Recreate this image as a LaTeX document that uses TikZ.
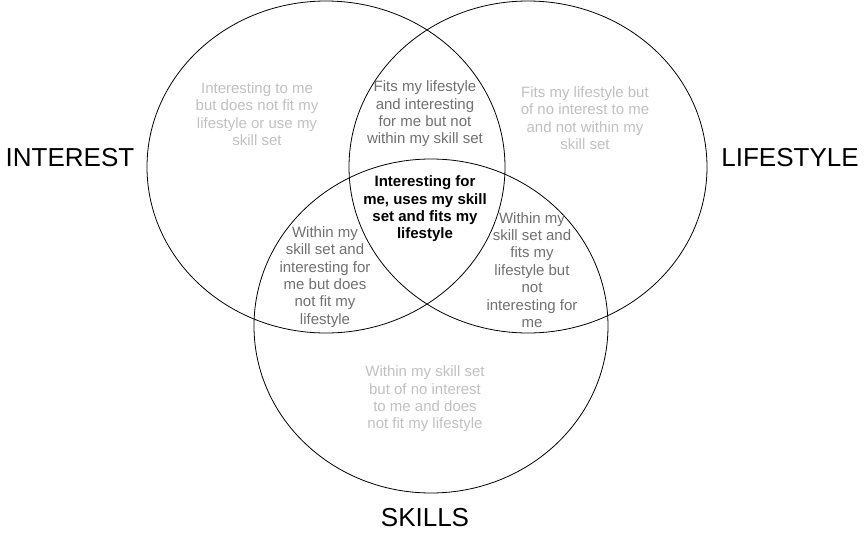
\documentclass[tikz,border=0pt]{standalone}
\usepackage{fontspec}
\setmainfont{Liberation Sans}
\usetikzlibrary{shapes.geometric}
\definecolor{lightgrey}{RGB}{192,192,192}
\definecolor{midgrey}{RGB}{112,112,112}
\tikzset{
  ring/.style={draw=black, line width=0.8pt, ellipse, inner sep=0pt, minimum width=358pt, minimum height=332pt},
  region/.style={align=center, inner sep=0pt, font=\fontsize{15}{17.4}\selectfont},
  outer/.style={region, text=lightgrey},
  inner/.style={region, text=midgrey},
  core/.style={region, text=black, font=\fontsize{15}{17.4}\selectfont\bfseries},
  setname/.style={inner sep=0pt, font=\fontsize{26}{30}\selectfont}
}

\begin{document}
\begin{tikzpicture}[x=1pt, y=-1pt]
  \useasboundingbox (0,0) rectangle (868,541);

  % the three sets
  \node[ring] (interest) at (326,167) {};
  \node[ring] (lifestyle) at (528,167) {};
  \node[ring, minimum width=354pt, minimum height=334pt] (skills) at (431,326) {};

  \node[setname] (interestname) at (70,158) {INTEREST};
  \node[setname] (lifestylename) at (790,158) {LIFESTYLE};
  \node[setname] (skillsname) at (425,518) {SKILLS};

  % one set only
  \node[outer] (onlyinterest) at (257,114) {Interesting to me\\but does not fit my\\lifestyle or use my\\skill set};
  \node[outer] (onlylifestyle) at (585,118) {Fits my lifestyle but\\of no interest to me\\and not within my\\skill set};
  \node[outer] (onlyskills) at (425,399) {Within my skill set\\but of no interest\\to me and does\\not fit my lifestyle};

  % two sets
  \node[inner] (interestlifestyle) at (425,114) {Fits my lifestyle\\and interesting\\for me but not\\within my skill set};
  \node[inner] (interestskills) at (325,277) {Within my\\skill set and\\interesting for\\me but does\\not fit my\\lifestyle};
  \node[inner] (lifestyleskills) at (532,270) {Within my\\skill set and\\fits my\\lifestyle but\\not\\interesting for\\me};

  % all three
  \node[core] (allthree) at (425,209) {Interesting for\\me, uses my skill\\set and fits my\\lifestyle};
\end{tikzpicture}
\end{document}
